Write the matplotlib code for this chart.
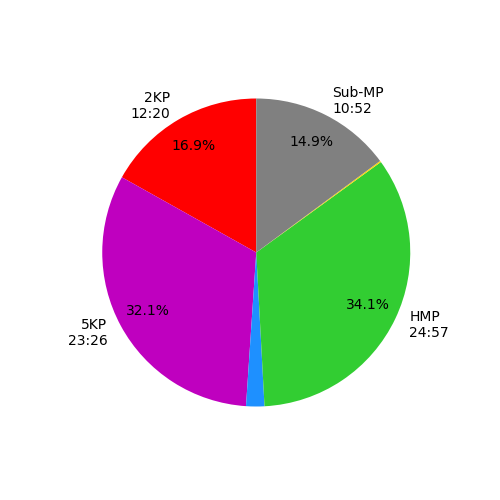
import matplotlib
matplotlib.use('Agg')
import matplotlib.pyplot as plt

# times in seconds, pie goes counterclockwise from the top
names = ['2KP', '5KP', '', 'HMP', '', 'Sub-MP']
times = [740, 1406, 84, 1497, 6, 652]
colors = ['red', 'm', 'dodgerblue', 'limegreen', 'gold', 'gray']

def fmt_time(s):
    return '%d:%02d' % (s // 60, s % 60)

labels = []
for n, t in zip(names, times):
    if n:
        labels.append(n + '\n' + fmt_time(t))
    else:
        labels.append('')

def pct(p):
    return ('%1.1f%%' % p) if p > 5 else ''

fig, ax = plt.subplots(figsize=(5, 5), dpi=100)
ax.pie(times, labels=labels, colors=colors, autopct=pct, startangle=90,
       pctdistance=0.8)
plt.savefig('out.png')
